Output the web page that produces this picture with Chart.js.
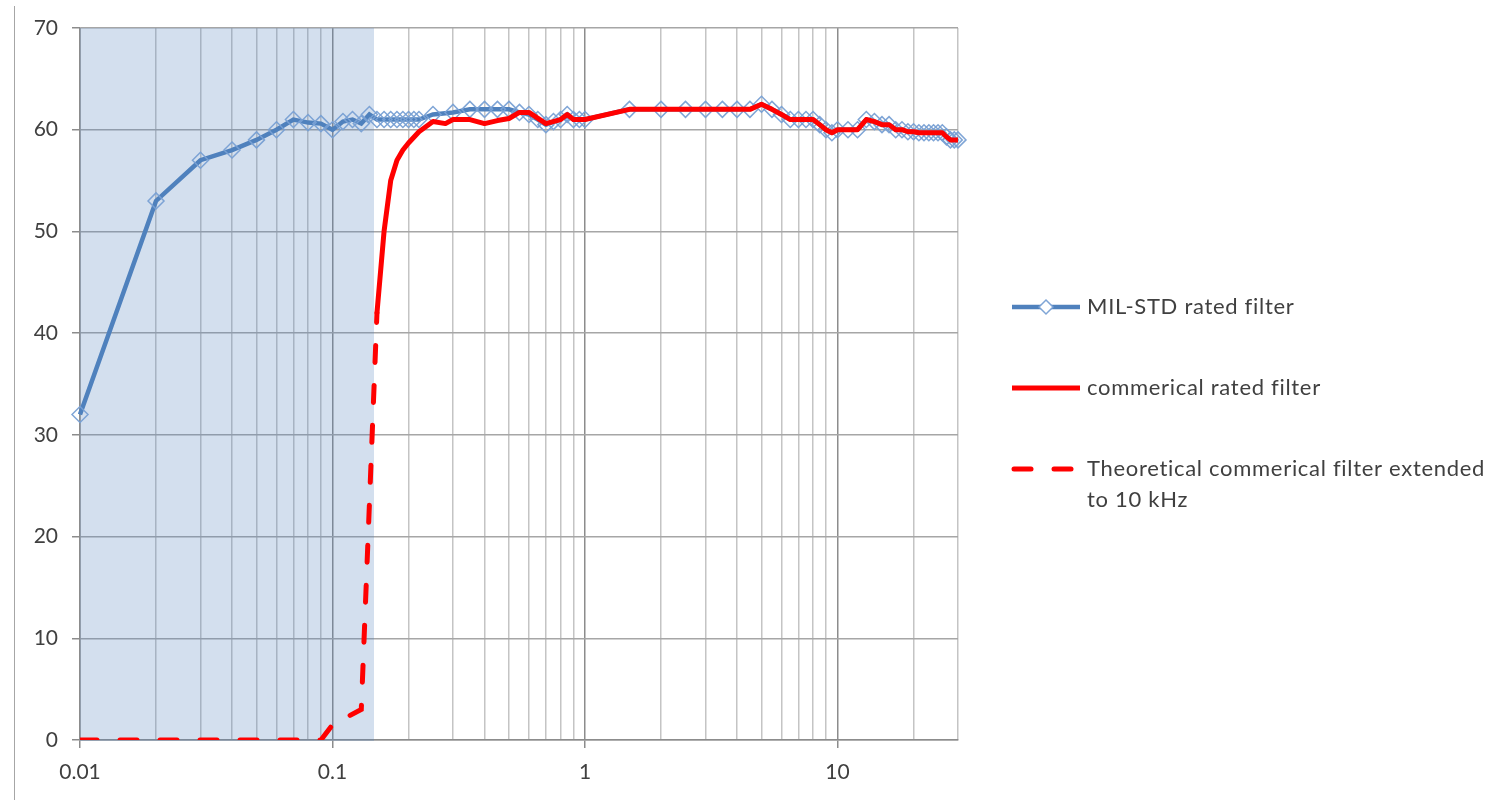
<!DOCTYPE html>
<html><head><meta charset="utf-8">
<script src="https://cdn.jsdelivr.net/npm/chart.js@4/dist/chart.umd.min.js"></script>
<style>
html,body{margin:0;padding:0;background:#fff;overflow:hidden}
#wrap{position:relative;width:1509px;height:800px}
#frame{position:absolute;left:14px;top:6px;height:794px;border-left:1px solid #a6a6a6}
canvas{position:absolute;left:0;top:0;display:block}
</style></head>
<body><div id="wrap"><div id="frame"></div><canvas id="c" width="1509" height="800"></canvas></div>
<script>
// ---- data ----
const milFreq = [
  0.01,0.02,0.03,0.04,0.05,0.06,0.07,0.08,0.09,0.1,
  0.11,0.12,0.13,0.14,0.15,0.16,0.17,0.18,0.19,0.2,0.21,0.22,
  0.25,0.3,0.35,0.4,0.45,0.5,0.55,0.6,0.65,0.7,0.75,0.8,0.85,0.9,0.95,1,
  1.5,2,2.5,3,3.5,4,4.5,5,5.5,6,6.5,7,7.5,8,8.5,9,9.5,10,
  11,12,13,14,15,16,17,18,19,20,21,22,23,24,25,26,27,28,29,30];
const milValues = [
  32,53,57,58,59,60,61,60.7,60.6,60,
  60.8,61,60.6,61.5,61,61,61,61,61,61,61,61,
  61.5,61.7,62,62,62,62,61.7,61.5,61,60.5,60.8,61,61.5,61,61,61,
  62,62,62,62,62,62,62,62.5,62,61.5,61,61,61,61,60.5,60,59.7,60,
  60,60,61,60.8,60.5,60.5,60,60,59.8,59.8,59.7,59.7,59.7,59.7,59.7,59.7,59.3,59,59,59];

const comFreq = [
  0.15,0.16,0.17,0.18,0.19,0.2,0.22,0.25,0.28,0.3,0.35,0.4,0.45,0.5,0.55,0.6,0.7,0.8,0.85,0.9,1,
  1.5,2,2.5,3,3.5,4,4.5,5,5.5,6,6.5,7,7.5,8,8.5,9,9.5,10,
  11,12,13,14,15,16,17,18,19,20,21,22,23,24,25,26,27,28,29,30];
const comValues = [
  42,50,55,57,58,58.7,59.8,60.8,60.6,61,61,60.6,60.9,61.1,61.7,61.7,60.6,61,61.5,61,61,
  62,62,62,62,62,62,62,62.5,62,61.5,61,61,61,61,60.5,60,59.7,60,
  60,60,61,60.8,60.5,60.5,60,60,59.8,59.8,59.7,59.7,59.7,59.7,59.7,59.7,59.3,59,59,59];

const theoFreq = [0.01,0.09,0.1,0.13,0.15];
const theoValues = [0,0,1.5,3,42];

const xTickValues = [
  0.01,0.02,0.03,0.04,0.05,0.06,0.07,0.08,0.09,
  0.1,0.2,0.3,0.4,0.5,0.6,0.7,0.8,0.9,
  1,2,3,4,5,6,7,8,9,
  10,20,30];
const xTickLabels = {0.01:'0.01',0.1:'0.1',1:'1',10:'10'};
const yTickLabels = ['0','10','20','30','40','50','60','70'];

const shadeFrom = 0.01, shadeTo = 0.146;

const seriesLabels = ['MIL-STD rated filter','commerical rated filter','Theoretical commerical filter extended to 10 kHz'];
const legendLines = [['MIL-STD rated filter'],['commerical rated filter'],['Theoretical commerical filter extended','to 10 kHz']];

// ---- chart ----
const FONT = 'Lato, "Open Sans", sans-serif';
const isDecade = v => Math.abs(Math.log10(v) - Math.round(Math.log10(v))) < 1e-9;
const pts = (xs, ys) => xs.map((x,i)=>({x, y: ys[i]}));

const shadePlugin = {
  id:'shade',
  beforeDatasetsDraw(chart){
    const {ctx, chartArea, scales} = chart;
    const x0 = scales.x.getPixelForValue(shadeFrom);
    const x1 = scales.x.getPixelForValue(shadeTo);
    ctx.save();
    ctx.fillStyle = 'rgba(79,129,189,0.25)';
    ctx.fillRect(x0, chartArea.top, x1 - x0, chartArea.bottom - chartArea.top + 1);
    ctx.restore();
  }
};

const legendPlugin = {
  id:'sideLegend',
  afterDraw(chart){
    const ctx = chart.ctx;
    const ds = chart.data.datasets;
    const rows = [307, 388, 469];
    ctx.save();
    ctx.font = '22px ' + FONT;
    try { ctx.letterSpacing = '0.7px'; } catch(e) {}
    ctx.fillStyle = '#404040';
    ctx.textBaseline = 'middle';
    ctx.textAlign = 'left';
    rows.forEach((y, i) => {
      const d = ds[i];
      ctx.save();
      ctx.strokeStyle = d.borderColor;
      ctx.lineWidth = d.borderWidth;
      ctx.lineCap = 'butt';
      if (d.borderDash && d.borderDash.length) {
        ctx.lineCap = 'round';
        ctx.beginPath(); ctx.moveTo(1014, y); ctx.lineTo(1031, y); ctx.stroke();
        ctx.beginPath(); ctx.moveTo(1054, y); ctx.lineTo(1071, y); ctx.stroke();
      } else {
        ctx.beginPath(); ctx.moveTo(1012, y); ctx.lineTo(1080, y); ctx.stroke();
      }
      if (d.pointRadius > 0) {
        const cx = 1046, r = 7;
        ctx.beginPath();
        ctx.moveTo(cx, y - r); ctx.lineTo(cx + r, y); ctx.lineTo(cx, y + r); ctx.lineTo(cx - r, y); ctx.closePath();
        ctx.fillStyle = '#ffffff'; ctx.fill();
        ctx.strokeStyle = d.pointBorderColor; ctx.lineWidth = 1.5; ctx.stroke();
      }
      ctx.restore();
      legendLines[i].forEach((t, k) => ctx.fillText(t, 1087, y + k * 31));
    });
    ctx.restore();
  }
};

new Chart(document.getElementById('c'), {
  type: 'line',
  data: {
    datasets: [
      {
        label: seriesLabels[0],
        data: pts(milFreq, milValues),
        borderColor: '#4F81BD', borderWidth: 4.5,
        pointStyle: 'rectRot', pointRadius: 8,
        pointBorderColor: 'rgba(120,160,212,0.95)', pointBackgroundColor: 'rgba(255,255,255,0)',
        pointBorderWidth: 1.5,
        tension: 0, clip: false, order: 2
      },
      {
        label: seriesLabels[1],
        data: pts(comFreq, comValues),
        borderColor: '#FF0000', borderWidth: 5,
        pointRadius: 0, tension: 0, borderJoinStyle: 'round', borderCapStyle: 'round', order: 1
      },
      {
        label: seriesLabels[2],
        data: pts(theoFreq, theoValues),
        borderColor: '#FF0000', borderWidth: 5,
        borderDash: [17, 23], borderCapStyle: 'round',
        pointRadius: 0, tension: 0, order: 1
      }
    ]
  },
  options: {
    responsive: false,
    animation: false,
    events: [],
    parsing: true,
    layout: { padding: { left: 0, top: 28, right: 551, bottom: 0 } },
    plugins: { legend: { display: false }, tooltip: { enabled: false } },
    scales: {
      x: {
        type: 'logarithmic', min: 0.01, max: 30,
        afterBuildTicks: (axis) => { axis.ticks = xTickValues.map(v => ({ value: v, major: isDecade(v) })); },
        afterFit: (s) => { s.height = 60; },
        ticks: {
          autoSkip: false, maxRotation: 0,
          callback: (v) => (xTickLabels[v] !== undefined ? xTickLabels[v] : ''),
          color: '#404040', font: { family: FONT, size: 21 }, padding: 12
        },
        grid: {
          color: (c) => (c.tick && isDecade(c.tick.value)) ? '#8C8C8C' : '#C4C4C4',
          tickColor: (c) => (c.tick && isDecade(c.tick.value)) ? '#8C8C8C' : 'rgba(0,0,0,0)',
          lineWidth: 1.5, tickLength: 8
        },
        border: { color: '#8C8C8C', width: 1.5 }
      },
      y: {
        type: 'linear', min: 0, max: 70,
        afterFit: (s) => { s.width = 80; },
        ticks: {
          stepSize: 10,
          callback: (v) => yTickLabels[Math.round(v / 10)],
          color: '#404040', font: { family: FONT, size: 21 }, padding: 14
        },
        grid: { color: '#A6A6A6', tickColor: '#8C8C8C', lineWidth: 1.5, tickLength: 8 },
        border: { color: '#8C8C8C', width: 1.5 }
      }
    }
  },
  plugins: [shadePlugin, legendPlugin]
});
</script></body></html>
